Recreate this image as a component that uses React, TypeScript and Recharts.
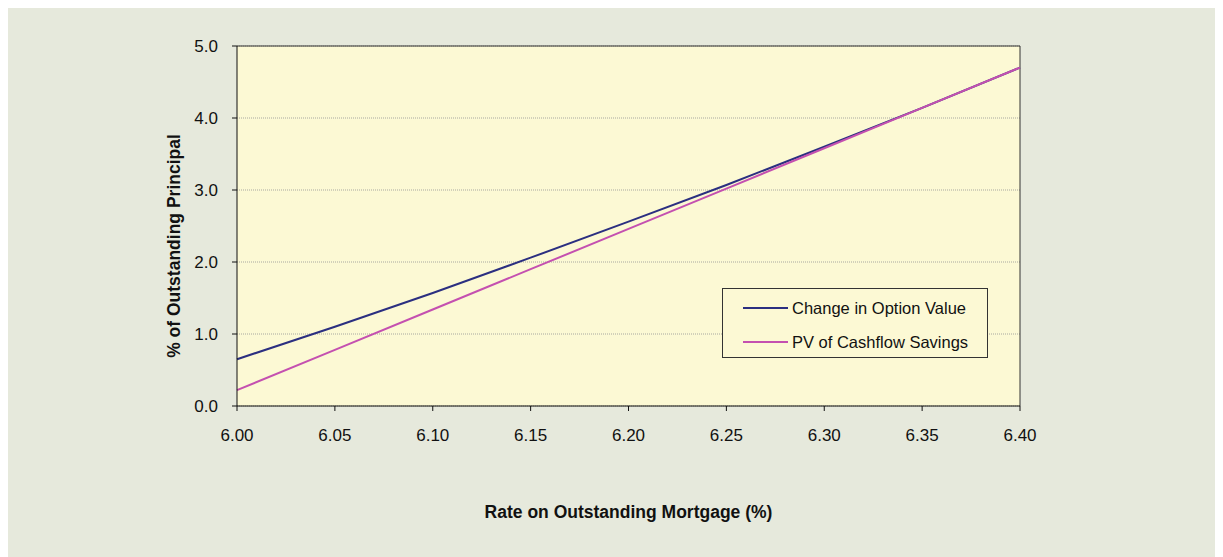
import {
	CartesianGrid,
	LineChart,
	Line,
	Legend,
	ReferenceLine,
	XAxis,
	YAxis,
	Label,
} from 'recharts'

const RATES = [6.0, 6.05, 6.1, 6.15, 6.2, 6.25, 6.3, 6.35, 6.4]
const OPTION_VALUE = [0.65, 1.1, 1.57, 2.06, 2.56, 3.07, 3.6, 4.14, 4.7]
const CASHFLOW_PV = [0.22, 0.78, 1.34, 1.9, 2.46, 3.02, 3.58, 4.14, 4.7]
const X_TICKS = [6.0, 6.05, 6.1, 6.15, 6.2, 6.25, 6.3, 6.35, 6.4]
const Y_TICKS = [0, 1, 2, 3, 4, 5]

const SERIES = [
	{ key: 'option', name: 'Change in Option Value', color: '#2b2f80' },
	{ key: 'cashflow', name: 'PV of Cashflow Savings', color: '#c450b0' },
]

const data = RATES.map((rate, i) => ({
	rate,
	option: OPTION_VALUE[i],
	cashflow: CASHFLOW_PV[i],
}))

const FONT = '"Liberation Sans", Arial, sans-serif'

// Legend drawn as a bordered box like the original
const renderLegend = () => (
	<div
		style={{
			width: 264,
			height: 68,
			border: '1px solid #333',
			background: '#fcf9d4',
			fontFamily: FONT,
			fontSize: 16.5,
			color: '#111',
			boxSizing: 'content-box',
		}}
	>
		{SERIES.map((s, i) => (
			<div key={s.key} style={{ display: 'flex', alignItems: 'center', height: 34, paddingTop: i === 0 ? 2 : 0 }}>
				<div style={{ width: 45, height: 2, background: s.color, marginLeft: 20, marginRight: 4 }} />
				<span>{s.name}</span>
			</div>
		))}
	</div>
)

const App = () => {
	return (
		<div style={{ width: 1216, height: 550, background: '#e6e9dc', margin: '-1px 0 0 -1px' }}>
			<LineChart
				width={1216}
				height={550}
				data={data}
				margin={{ top: 39, right: 203, left: 0, bottom: 0 }}
				style={{ fontFamily: FONT }}
			>
				<CartesianGrid
					fill="#fcf9d4"
					vertical={false}
					stroke="#a8a8a0"
					strokeDasharray="1 1"
				/>
				<XAxis
					type="number"
					dataKey="rate"
					domain={[6.0, 6.4]}
					ticks={X_TICKS}
					tickFormatter={(v: number) => v.toFixed(2)}
					height={151}
					tickSize={5}
					tickMargin={18}
					stroke="#111"
					tick={{ fill: '#111', fontSize: 17 }}
				>
					<Label
						value="Rate on Outstanding Mortgage (%)"
						position="center"
						dy={30}
						style={{ fontSize: 17.5, fontWeight: 'bold', fill: '#111' }}
					/>
				</XAxis>
				<YAxis
					type="number"
					domain={[0, 5]}
					ticks={Y_TICKS}
					tickFormatter={(v: number) => v.toFixed(1)}
					width={230}
					tickSize={5}
					tickMargin={14}
					stroke="#111"
					tick={{ fill: '#111', fontSize: 17 }}
				>
					<Label
						value="% of Outstanding Principal"
						angle={-90}
						position="center"
						dx={52}
						dy={20}
						style={{ fontSize: 17.5, fontWeight: 'bold', fill: '#111', textAnchor: 'middle' }}
					/>
				</YAxis>
				<ReferenceLine y={5} stroke="#333" strokeWidth={1} />
				<ReferenceLine x={6.4} stroke="#333" strokeWidth={1} />
				{SERIES.map(s => (
					<Line
						key={s.key}
						type="linear"
						dataKey={s.key}
						name={s.name}
						stroke={s.color}
						strokeWidth={2}
						dot={false}
						isAnimationActive={false}
					/>
				))}
				<Legend
					content={renderLegend}
					layout="horizontal"
					verticalAlign="middle"
					wrapperStyle={{ position: 'absolute', left: 715, top: 281, width: 'auto' }}
				/>
			</LineChart>
		</div>
	)
}

export default App
